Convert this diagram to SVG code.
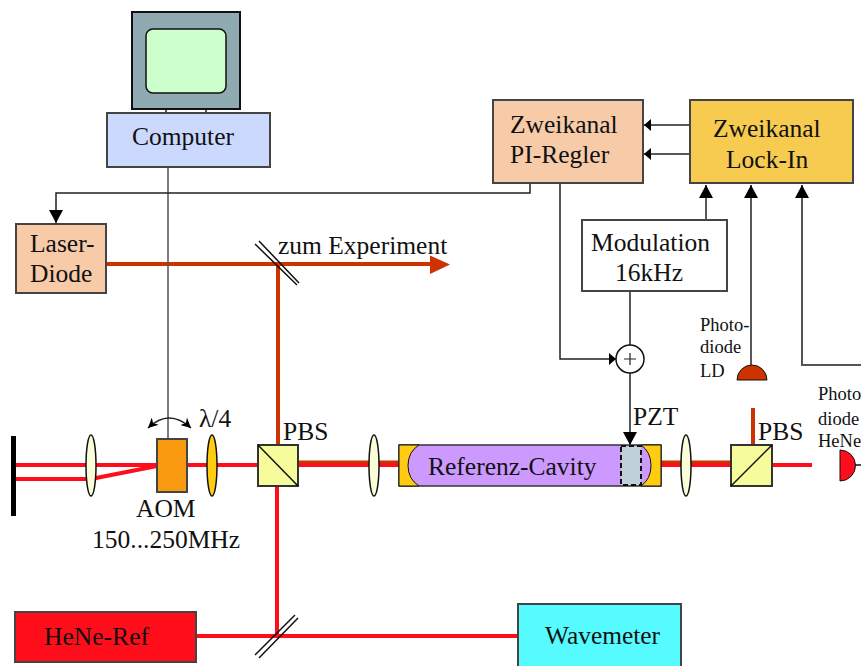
<svg xmlns="http://www.w3.org/2000/svg" width="861" height="666" viewBox="0 0 861 666">
<style>
text{font-family:"Liberation Serif","Times New Roman",serif;font-size:25.500px;fill:#111}
.sm{font-size:18.500px}
.box{stroke:#444;stroke-width:2}
.w{fill:none;stroke:#222;stroke-width:1.5}
.g{fill:none;stroke:#555;stroke-width:2}
.r{fill:none;stroke:#ff0d1a;stroke-width:4}
.o{fill:none;stroke:#cc3300;stroke-width:4}
.lens{fill:#fafdd8;stroke:#111;stroke-width:1.5}
.bs{fill:#f6fb9c;stroke:#333;stroke-width:2}
</style>
<defs>
<marker id="ah" markerUnits="userSpaceOnUse" markerWidth="14" markerHeight="14" refX="13" refY="7" orient="auto"><path d="M0 0L13 7L0 14Z" fill="#000"/></marker>
<marker id="as" markerUnits="userSpaceOnUse" markerWidth="8" markerHeight="12" refX="7" refY="6" orient="auto"><path d="M0 0L7 6L0 12Z" fill="#000"/></marker>
<marker id="cv" markerUnits="userSpaceOnUse" markerWidth="11" markerHeight="10" refX="10" refY="5" orient="auto-start-reverse"><path d="M0 0L10 5L0 10L3 5Z" fill="#000"/></marker>
</defs>
<g id="beams">
<path class="r" d="M16 465H157M16 479H91"/>
<path class="r" d="M91 479L157 466"/>
<path class="r" d="M187 465H258M298 465H399M661 465H731M772 465H812"/>
<path class="o" style="stroke-width:3" d="M298 462H399M661 462H731"/>
<path class="o" d="M106 264H432M278 264V445M753 408V445"/>
<path d="M430 255.500L450 264.500L430 274Z" fill="#cc3300"/>
<path class="r" d="M277 486V636M196 636H518"/>
</g>
<g id="connectors">
<path class="g" style="stroke-width:1.500" d="M168 167V438"/>
<path class="w" d="M530 183V193H56V223" marker-end="url(#ah)"/>
<path class="w" d="M690 125H644" marker-end="url(#as)"/>
<path class="w" d="M690 154H644" marker-end="url(#as)"/>
<path class="w" d="M706 220V185" marker-end="url(#ah)"/>
<path class="w" d="M751 365V185" marker-end="url(#ah)"/>
<path class="g" d="M861 365H802V185" marker-end="url(#ah)"/>
<path class="w" d="M560 183V359H616" marker-end="url(#as)"/>
<path class="w" d="M630 291V345"/>
<path class="w" d="M630 373V445" marker-end="url(#ah)"/>
<path class="w" d="M148 428Q169 408 191 428" marker-start="url(#cv)" marker-end="url(#cv)"/>
<path class="w" d="M166 109V113M206 109V113"/>
</g>
<g id="monitor"><rect x="132" y="12" width="108" height="97" fill="#8faab0" stroke="#111" stroke-width="2"/><rect x="146" y="29" width="80" height="64" rx="7" fill="#ccffcc" stroke="#111" stroke-width="1.500"/></g>
<g id="computer"><rect class="box" x="107" y="113" width="163" height="54" fill="#ccd9ff"/><text x="132" y="145">Computer</text></g>
<g id="laser-diode"><rect class="box" x="16" y="224" width="90" height="69" fill="#f7cba8"/><text x="30" y="252">Laser-</text><text x="30" y="282">Diode</text></g>
<g id="zum-experiment"><text x="278" y="254">zum Experiment</text><path d="M255 244L297 285M259 241L299 283" fill="none" stroke="#111" stroke-width="1.500"/></g>
<g id="pi-regler"><rect class="box" x="493" y="100" width="150" height="83" fill="#f7cba8"/><text x="510" y="133">Zweikanal</text><text x="510" y="163">PI-Regler</text></g>
<g id="lock-in"><rect class="box" x="690" y="100" width="163" height="83" fill="#f7cb50"/><text x="713" y="137">Zweikanal</text><text x="726" y="168">Lock-In</text></g>
<g id="modulation"><rect class="box" x="582" y="220" width="145" height="71" fill="#fff"/><text x="591" y="251">Modulation</text><text x="615" y="281">16kHz</text></g>
<g id="sum"><circle cx="630" cy="359" r="14" fill="#fff" stroke="#111" stroke-width="1.500"/><path d="M624 359H636M630 353V365" stroke="#222" stroke-width="1.200"/></g>
<g id="photodiode-ld"><text class="sm" x="700" y="331">Photo-</text><text class="sm" x="700" y="353">diode</text><text class="sm" x="700" y="377">LD</text><path d="M737 380A15 15 0 0 1 767 380Z" fill="#cc3300" stroke="#111"/></g>
<g id="photodiode-hene"><text class="sm" x="818" y="400">Photo</text><text class="sm" x="818" y="425">diode</text><text class="sm" x="818" y="447">HeNe</text><path d="M840 450A15.500 15.500 0 0 1 840 481Z" fill="#ff0d1a" stroke="#111"/><path d="M855 465H861" stroke="#111" stroke-width="1.500"/></g>
<g id="end-mirror"><rect x="11" y="436" width="5" height="80" fill="#000"/></g>
<g id="lens1"><ellipse class="lens" cx="91" cy="465.500" rx="5" ry="30.500"/></g>
<g id="aom"><rect class="box" x="157" y="439" width="30" height="53" fill="#f99a10"/><text x="136" y="517">AOM</text><text x="92" y="548">150...250MHz</text></g>
<g id="lambda4"><ellipse cx="212" cy="465.500" rx="5" ry="30.500" fill="#ffcc11" stroke="#111" stroke-width="1.500"/><text x="199" y="427">λ/4</text></g>
<g id="pbs1"><rect class="bs" x="258" y="445" width="40" height="41"/><path d="M258 445L298 486" stroke="#111" stroke-width="1.500"/><text x="283" y="440">PBS</text></g>
<g id="lens2"><ellipse class="lens" cx="374" cy="465.500" rx="5" ry="30.500"/></g>
<g id="cavity"><rect x="399" y="445" width="262" height="41" fill="#cc99ff" stroke="#333" stroke-width="1.500"/><path d="M399 445H419Q408 452 408 465.500Q408 479 419 486H399Z" fill="#ffcc11" stroke="#111"/><path d="M661 445H641Q651 452 651 465.500Q651 479 641 486H661Z" fill="#ffcc11" stroke="#111"/><rect x="621" y="446" width="20" height="39" fill="#c0d0d8" stroke="#111" stroke-width="2" stroke-dasharray="5 3"/><text x="428" y="475">Referenz-Cavity</text><text x="633" y="425">PZT</text></g>
<g id="lens3"><ellipse class="lens" cx="686" cy="465.500" rx="5" ry="30.500"/></g>
<g id="pbs2"><rect class="bs" x="731" y="445" width="41" height="41"/><path d="M731 486L772 445" stroke="#111" stroke-width="1.500"/><text x="758" y="440">PBS</text></g>
<g id="hene-ref"><rect class="box" x="15" y="612" width="181" height="50" fill="#ff0d1a"/><text x="44" y="645" textLength="105" lengthAdjust="spacingAndGlyphs">HeNe-Ref</text></g>
<g id="mirror2"><path d="M255 655L295 615M259 658L298 618" fill="none" stroke="#111" stroke-width="1.500"/></g>
<g id="wavemeter"><rect class="box" x="518" y="604" width="163" height="64" fill="#55fbff"/><text x="545" y="644" textLength="115" lengthAdjust="spacingAndGlyphs">Wavemeter</text></g>
</svg>
